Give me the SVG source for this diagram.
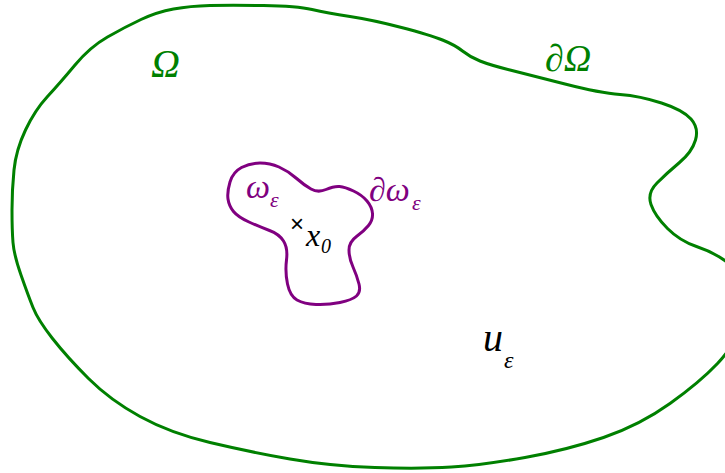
<svg xmlns="http://www.w3.org/2000/svg" width="725" height="473" viewBox="0 0 725 473">
<style>
.g{fill:none;stroke:#008000;stroke-width:3;stroke-linejoin:round}
.p{fill:none;stroke:#800080;stroke-width:3;stroke-linejoin:round}
text{font-family:"Liberation Serif","DejaVu Serif",serif;font-style:italic}
.tg{fill:#008000}
.tp{fill:#800080}
.tk{fill:#000000}
</style>
<rect width="725" height="473" fill="#ffffff"/>
<g id="domain-Omega">
<path class="g" d="M210,5.5 Q230,5 263.5,5.5 Q297,6 312,9.5 Q327,13 350,16.5 Q373,20 401.5,27.5 Q430,35 442.5,40 Q455,45 462.5,51 Q470,57 480,61 Q490,65 510,70 Q530,75 565,84 Q600,93 620,94.5 Q640,96 661.5,103 Q683,110 691,119 Q699,128 695.5,140 Q692,152 679.5,162.5 Q667,173 657,183 Q647,193 651,204.5 Q655,216 667.5,228.5 Q680,241 696.5,246.5 Q713,252 725.5,261 Q738,270 741.5,287.5 Q745,305 740,325 Q735,345 717.5,363.5 Q700,382 670,403.5 Q640,425 603.5,437.5 Q567,450 525,457.5 Q483,465 451.5,467 Q420,469 375,467.5 Q330,466 290,459 Q250,452 210,442.5 Q170,433 140,416.5 Q110,400 88.5,378.5 Q67,357 52.5,338.5 Q38,320 33,307.5 Q28,295 21,275 Q14,255 13,242.5 Q12,230 12,210 Q12,190 14,170 Q16,150 25.5,130 Q35,110 47.5,96.5 Q60,83 75,65 Q90,47 107.5,37 Q125,27 141,19.5 Q157,12 173.5,9 Q190,6 210,5.5 Z"/>
<text class="tg" x="151" y="77" font-size="40">Ω</text>
<text class="tg" x="545" y="71" font-size="38">∂Ω</text>
</g>
<g id="inclusion-omega">
<path class="p" d="M228,199 Q227,192 230,182 Q233,172 241.5,167.5 Q250,163 260,163 Q270,163 279,167 Q288,171 296,178 Q304,185 311,189 Q318,193 326,189.5 Q334,186 339.5,186.5 Q345,187 353.5,191 Q362,195 367,201 Q372,207 372.5,213.5 Q373,220 368.5,225.5 Q364,231 356.5,236.5 Q349,242 349,250 Q349,258 353,267 Q357,276 359,284 Q361,292 356.5,296 Q352,300 340,302.5 Q328,305 316,304.5 Q304,304 297,300 Q290,296 287.5,284 Q285,272 286.5,260 Q288,248 283.5,241 Q279,234 269.5,230.5 Q260,227 249,222 Q238,217 233.5,211.5 Q229,206 228,199 Z"/>
<text class="tp" x="246" y="198" font-size="34">ω<tspan x="270" y="207" font-size="22">ε</tspan></text>
<text class="tp" x="369" y="201" font-size="34">∂ω<tspan x="412" y="210" font-size="22">ε</tspan></text>
</g>
<g id="point-x0">
<text class="tk" x="297" y="232" font-size="24" text-anchor="middle" style="font-style:normal;font-family:'Liberation Sans',sans-serif">×</text>
<text class="tk" x="306" y="246" font-size="32">x<tspan x="321" y="253" font-size="20">0</tspan></text>
</g>
<g id="solution-u">
<text class="tk" x="483" y="351" font-size="40">u<tspan x="504" y="368" font-size="24">ε</tspan></text>
</g>
</svg>
